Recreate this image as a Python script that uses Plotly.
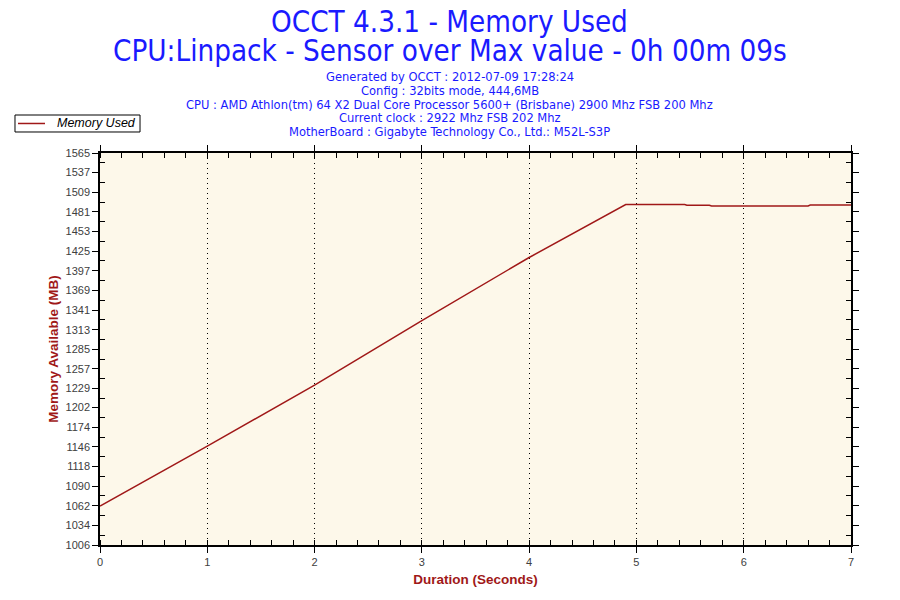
import plotly.graph_objects as go

# Sensor samples
seconds = [0, 1, 2, 3, 4, 4.9, 5.45, 5.47, 5.68, 5.7, 6.6, 6.62, 7]
memory_mb = [1061.5, 1147, 1234, 1326, 1416, 1491.5, 1491.5, 1490.5, 1490.5, 1489.5, 1489.5, 1490.8, 1490.8]

y_tick_labels = [1006, 1034, 1062, 1090, 1118, 1146, 1174, 1202, 1229, 1257, 1285,
                 1313, 1341, 1369, 1397, 1425, 1453, 1481, 1509, 1537, 1565]
x_tick_labels = [0, 1, 2, 3, 4, 5, 6, 7]

series_name = "Memory Used"
title_lines = ["OCCT 4.3.1 - Memory Used",
               "CPU:Linpack - Sensor over Max value - 0h 00m 09s"]
info_lines = ["Generated by OCCT : 2012-07-09 17:28:24",
              "Config : 32bits mode, 444,6MB",
              "CPU : AMD Athlon(tm) 64 X2 Dual Core Processor 5600+ (Brisbane) 2900 Mhz FSB 200 Mhz",
              "Current clock : 2922 Mhz FSB 202 Mhz",
              "MotherBoard : Gigabyte Technology Co., Ltd.: M52L-S3P"]

font_narrow = "DejaVu Sans Condensed, Liberation Sans Narrow, DejaVu Sans"
font_plain = "Liberation Sans, Arial"
red = "#a01818"
blue = "#1a1aff"

# minor ticks half way between the labelled ones
y_minor = [(a + b) / 2 for a, b in zip(y_tick_labels[:-1], y_tick_labels[1:])]

fig = go.Figure(go.Scatter(
    x=seconds,
    y=memory_mb,
    mode="lines",
    name=series_name,
    line=dict(color=red, width=1.5),
    showlegend=False,
))

# header texts, placed in paper units above the plot area
notes = []
for i, line in enumerate(title_lines):
    notes.append(dict(text=line, xref="paper", yref="paper", x=0.466, y=1.334 - i * 0.074,
                      xanchor="center", yanchor="middle", showarrow=False,
                      font=dict(family=font_narrow, size=29.3, color=blue)))
for i, line in enumerate(info_lines):
    notes.append(dict(text=line, xref="paper", yref="paper", x=0.466, y=1.196 - i * 0.0355,
                      xanchor="center", yanchor="middle", showarrow=False,
                      font=dict(family=font_narrow, size=12.8, color=blue)))

# small boxed legend in the top-left corner, drawn by hand to keep it compact
notes.append(dict(text="<i>" + series_name + "</i>", xref="paper", yref="paper", x=-0.060, y=1.0753,
                  xanchor="left", yanchor="middle", showarrow=False,
                  font=dict(family=font_plain, size=12.5, color="black")))
legend_shapes = [
    dict(type="rect", xref="paper", yref="paper", x0=-0.1132, x1=0.0533, y0=1.0536, y1=1.0969,
         line=dict(color="black", width=1), fillcolor="white"),
    dict(type="line", xref="paper", yref="paper", x0=-0.1092, x1=-0.0732, y0=1.0753, y1=1.0753,
         line=dict(color=red, width=1.5)),
]

# the page adds an 8px body margin, so the figure is 8px smaller
fig.update_layout(
    width=892,
    height=592,
    paper_bgcolor="white",
    plot_bgcolor="#fdf8ea",
    margin=dict(l=92, r=49, t=145, b=55, autoexpand=False),
    annotations=notes,
    shapes=legend_shapes,
)

fig.update_xaxes(
    range=[0, 7],
    tickvals=x_tick_labels,
    showgrid=True, gridcolor="black", griddash="1px,4px", gridwidth=1,
    showline=True, linecolor="black", linewidth=1.5, mirror="ticks",
    ticks="outside", ticklen=6, tickcolor="black",
    minor=dict(tickmode="linear", tick0=0, dtick=0.2, ticks="inside", ticklen=5, tickcolor="black", showgrid=False),
    tickfont=dict(family=font_plain, size=11, color="#404040"),
    zeroline=False, automargin=False,
    title=dict(text="<b>Duration (Seconds)</b>", standoff=8,
               font=dict(family=font_plain, size=13.5, color=red)),
)

fig.update_yaxes(
    range=[1006, 1565],
    tickvals=y_tick_labels,
    showgrid=False,
    showline=True, linecolor="black", linewidth=1.5, mirror="ticks",
    ticks="outside", ticklen=6, tickcolor="black",
    minor=dict(tickvals=y_minor, ticks="inside", ticklen=5, tickcolor="black", showgrid=False),
    tickfont=dict(family=font_plain, size=11, color="#404040"),
    zeroline=False, automargin=False,
    title=dict(text="<b>Memory Available (MB)</b>", standoff=4,
               font=dict(family=font_plain, size=13.5, color=red)),
)

fig.write_html("out.html")
